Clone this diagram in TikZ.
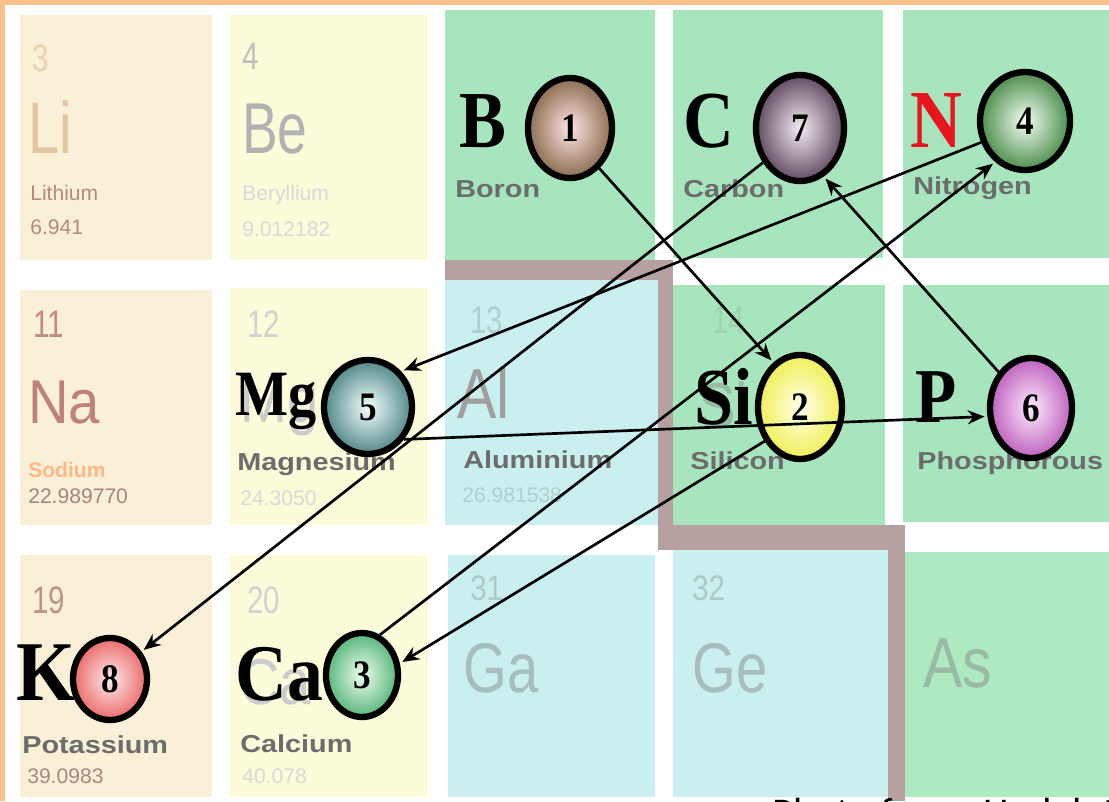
\documentclass[tikz,border=0pt]{standalone}
\usepackage{fontspec}
\usepackage{graphicx}
\setmainfont{Liberation Serif}
\setsansfont{Liberation Sans}
\newfontfamily\creditfont{Carlito}
\usetikzlibrary{shapes.geometric,arrows.meta}

\definecolor{frame}{HTML}{FAC28A}
\definecolor{tileLi}{HTML}{F9F0D7}
\definecolor{tileBe}{HTML}{FCFBDA}
\definecolor{tileGreen}{HTML}{A7E5BF}
\definecolor{tileGreenB}{HTML}{AEE9C2}
\definecolor{tileCyan}{HTML}{C9EFEF}
\definecolor{band}{HTML}{B7A0A0}
\definecolor{tagtext}{HTML}{6C6C6C}
\definecolor{redN}{HTML}{E8141E}

\newcommand\vstretch[2]{\scalebox{1}[#1]{#2}}

\tikzset{
  symbol/.style={inner sep=0pt, anchor=base west, font=\bfseries\fontsize{50}{50}\selectfont},
  tag/.style={inner sep=0pt, anchor=base west, text=tagtext, font=\sffamily\bfseries\fontsize{20.5}{20}\selectfont},
  ghost/.style={inner sep=0pt, anchor=base west, font=\sffamily\fontsize{40}{40}\selectfont},
  numfaint/.style={inner sep=0pt, anchor=base west, font=\sffamily\fontsize{21}{21}\selectfont},
  fine/.style={inner sep=0pt, anchor=base west, font=\sffamily\fontsize{15}{15}\selectfont},
  ball/.style={ellipse, draw=black, line width=4.5pt, inner sep=0pt, font=\bfseries\fontsize{25}{25}\selectfont},
  conn/.style={line width=1.9pt, -{Stealth[length=12pt,width=10pt]}, shorten >=2pt},
}

\begin{document}
\begin{tikzpicture}[x=0.025cm,y=-0.025cm]
\useasboundingbox (0,0) rectangle (1109,801);
\begin{scope}
\clip (0,0) rectangle (1109,801);
\fill[white] (0,0) rectangle (1109,801);

% element tiles, row 1
\fill[tileLi] (20,15) rectangle (212,260);
\fill[tileBe] (230,15) rectangle (428,260);
\fill[tileGreen] (445,10) rectangle (655,260);
\fill[tileGreen] (673,10) rectangle (883,258);
\fill[tileGreen] (903,10) rectangle (1109,258);
% row 2
\fill[tileLi] (20,290) rectangle (212,525);
\fill[tileBe] (230,288) rectangle (428,525);
\fill[tileCyan] (445,280) rectangle (658,525);
\fill[tileGreen] (673,285) rectangle (885,525);
\fill[tileGreen] (903,285) rectangle (1109,522);
% row 3
\fill[tileLi] (20,555) rectangle (212,797);
\fill[tileBe] (230,555) rectangle (428,797);
\fill[tileCyan] (448,555) rectangle (655,797);
\fill[tileCyan] (673,550) rectangle (888,797);
\fill[tileGreenB] (905,552) rectangle (1109,797);
% metal / non-metal staircase
\fill[band] (445,260) rectangle (673,280);
\fill[band] (658,260) rectangle (673,550);
\fill[band] (658,525) rectangle (905,550);
\fill[band] (888,525) rectangle (905,801);

% outer frame
\fill[frame] (0,0) rectangle (1109,5);
\fill[frame] (0,0) rectangle (5,801);

% faint atomic numbers
\node[numfaint, text=tileLi!55!brown!70] (z3) at (32,72) {\vstretch{1.3}{3}};
\node[numfaint, text=gray!50] (z4) at (242,70) {\vstretch{1.3}{4}};
\node[numfaint, text=tileLi!60!red!55!gray] (z11) at (33,337) {\vstretch{1.3}{11}};
\node[numfaint, text=gray!35] (z12) at (247,337) {\vstretch{1.3}{12}};
\node[numfaint, text=tileCyan!70!gray] (z13) at (470,333) {\vstretch{1.3}{13}};
\node[numfaint, text=tileGreen!80!gray] (z14) at (712,333) {\vstretch{1.3}{14}};
\node[numfaint, text=tileLi!70!red!50!gray] (z19) at (32,613) {\vstretch{1.3}{19}};
\node[numfaint, text=gray!35] (z20) at (247,613) {\vstretch{1.3}{20}};
\node[numfaint, text=tileCyan!65!gray] (z31) at (470,600) {\vstretch{1.2}{31}};
\node[numfaint, text=tileCyan!65!gray] (z32) at (692,600) {\vstretch{1.2}{32}};

% faint printed symbols
\node[ghost, text=tileLi!45!brown!75] (gLi) at (28,153) {\vstretch{1.3}{Li}};
\node[ghost, text=gray!60, font=\sffamily\fontsize{38}{38}\selectfont] (gBe) at (242,153) {\vstretch{1.35}{Be}};
\node[ghost, text=tileLi!55!red!50!gray] (gNa) at (28,423) {\vstretch{1.1}{Na}};
\node[ghost, text=gray!75, font=\sffamily\fontsize{42}{42}\selectfont] (gAl) at (457,418) {\vstretch{1.2}{Al}};
\node[ghost, text=gray!40] (gMg) at (240,422) {\vstretch{1.15}{Mg}};
\node[ghost, text=gray!40!tileGreen] (gSi) at (698,428) {\vstretch{1.15}{Si}};
\node[ghost, text=gray!40] (gCa) at (239,704) {\vstretch{1.15}{Ca}};
\node[ghost, text=tileCyan!55!gray] (gGa) at (463,692) {\vstretch{1.25}{Ga}};
\node[ghost, text=tileCyan!55!gray] (gGe) at (692,692) {\vstretch{1.25}{Ge}};
\node[ghost, text=tileGreenB!55!gray, font=\sffamily\fontsize{42}{42}\selectfont] (gAs) at (923,687) {\vstretch{1.2}{As}};

% faint names and masses
\node[fine, text=tileLi!60!red!45!gray] (fLi1) at (30,200) {Lithium};
\node[fine, text=tileLi!60!red!45!gray] (fLi2) at (30,234) {6.941};
\node[fine, text=gray!30] (fBe1) at (242,200) {Beryllium};
\node[fine, text=gray!30] (fBe2) at (242,236) {9.012182};
\node[fine, text=tileLi!50!red!35!orange!55, font=\sffamily\bfseries\fontsize{15}{15}\selectfont] (fNa1) at (28,477) {Sodium};
\node[fine, text=tileLi!60!red!30!gray] (fNa2) at (28,503) {22.989770};
\node[fine, text=gray!30] (fMg2) at (240,505) {24.3050};
\node[fine, text=tileCyan!70!gray] (fAl2) at (462,502) {26.981538};
\node[fine, text=tileLi!60!red!35!gray] (fK2) at (27,783) {39.0983};
\node[fine, text=gray!30] (fCa2) at (242,783) {40.078};

% printed element names
\node[tag] (tB) at (455,197) {\vstretch{0.85}{Boron}};
\node[tag] (tC) at (683,197) {\vstretch{0.85}{Carbon}};
\node[tag] (tN) at (913,194) {\vstretch{0.85}{Nitrogen}};
\node[tag] (tMg) at (237,470) {\vstretch{0.85}{Magnesium}};
\node[tag] (tAl) at (463,468) {\vstretch{0.85}{Aluminium}};
\node[tag] (tSi) at (690,469) {\vstretch{0.85}{Silicon}};
\node[tag] (tP) at (917,469) {\vstretch{0.85}{Phosphorous}};
\node[tag] (tK) at (22,753) {\vstretch{0.85}{Potassium}};
\node[tag] (tCa) at (240,752) {\vstretch{0.85}{Calcium}};

% element symbols
\node[symbol] (sB) at (459,148) {\vstretch{1.15}{B}};
\node[symbol] (sC) at (683,147) {\vstretch{1.15}{C}};
\node[symbol, text=redN, font=\bfseries\fontsize{51}{51}\selectfont] (sN) at (910,147) {\vstretch{1.15}{N}};
\node[symbol, font=\bfseries\fontsize{40}{40}\selectfont] (sMg) at (235,415) {\vstretch{1.15}{Mg}};
\node[symbol] (sSi) at (694,424) {\vstretch{1.15}{Si}};
\node[symbol, font=\bfseries\fontsize{48}{48}\selectfont] (sP) at (915,422) {\vstretch{1.15}{P}};
\node[symbol, font=\bfseries\fontsize{54}{54}\selectfont] (sK) at (16,700) {\vstretch{1.12}{K}};
\node[symbol, font=\bfseries\fontsize{51}{51}\selectfont] (sCa) at (235,700) {\vstretch{1.12}{Ca}};

% numbered balls
\node[ball, minimum width=2.1cm, minimum height=2.5cm, inner color=white!90!red, outer color=brown!55!gray!85!black] (n1) at (570,128) {\vstretch{1.15}{1}};
\node[ball, minimum width=2.1cm, minimum height=2.6cm, inner color=yellow!8, outer color=yellow!80!olive!60!white] (n2) at (800,407) {\vstretch{1.15}{2}};
\node[ball, minimum width=1.8cm, minimum height=2.1cm, inner color=green!6, outer color=green!45!teal!60!white!85!black] (n3) at (362,675) {\vstretch{1.15}{3}};
\node[ball, minimum width=2.25cm, minimum height=2.45cm, inner color=green!4, outer color=green!30!gray!85!black] (n4) at (1025,121) {\vstretch{1.15}{4}};
\node[ball, minimum width=2.2cm, minimum height=2.35cm, inner color=cyan!4, outer color=cyan!25!gray!85!black] (n5) at (368,407) {\vstretch{1.15}{5}};
\node[ball, minimum width=2.05cm, minimum height=2.5cm, inner color=magenta!8, outer color=violet!45!magenta!55!white!85!black] (n6) at (1031,408) {\vstretch{1.15}{6}};
\node[ball, minimum width=2.2cm, minimum height=2.65cm, inner color=white!92!violet, outer color=violet!20!gray!75!black] (n7) at (800,128) {\vstretch{1.15}{7}};
\node[ball, minimum width=1.85cm, minimum height=2.05cm, inner color=red!8, outer color=red!55!white!92!black] (n8) at (110,679) {\vstretch{1.15}{8}};

% the numbered path
\draw[conn] (n1.-54) -- (n2.121);
\draw[conn] (n2.224) -- (n3.17);
\draw[conn] (n3.66) -- (n4.234);
\draw[conn] (n4.206) -- (n5.47);
\draw[conn] (n5.-42) -- (n6.191);
\draw[conn] (n6.132) -- (n7.-64);
\draw[conn] (n7.223) -- (n8.41);

% credit line, cut by the page edge
\node[inner sep=0pt, anchor=base west, font=\creditfont\fontsize{29}{29}\selectfont] (credit) at (772,826) {Photo from: Hudelot};
\end{scope}
\end{tikzpicture}
\end{document}
